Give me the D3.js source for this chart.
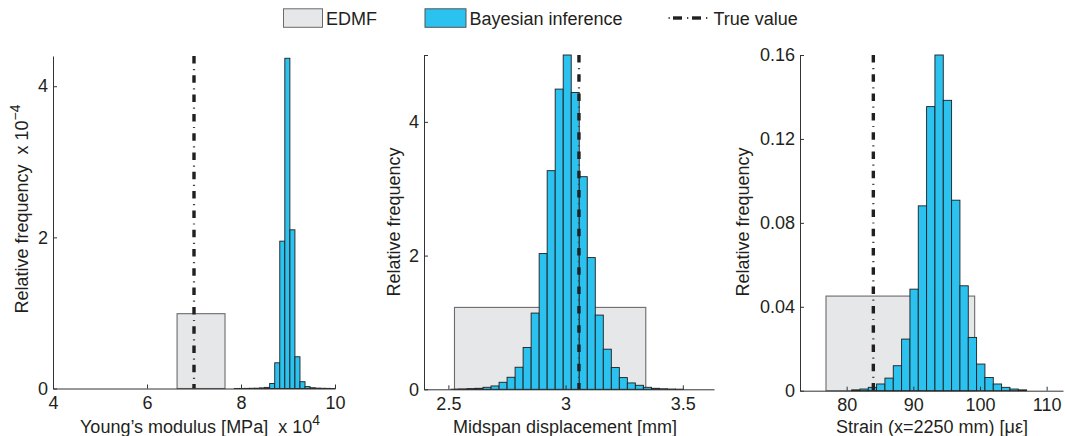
<!DOCTYPE html>
<html><head><meta charset="utf-8">
<script src="https://cdn.jsdelivr.net/npm/d3@7"></script>
<style>
body{margin:0;background:#fff}
svg{display:block}
text{font-family:"Liberation Sans",Arial,Helvetica,sans-serif;fill:#231f20}
</style>
</head><body>
<svg id="chart" width="1065" height="436"></svg>
<script>
// ---------------- DATA ----------------
// Panel 1: Young's modulus (x 10^4 MPa), relative frequency (x 10^-4)
const youngTicksX = [4, 6, 8, 10];
const youngTicksY = [0, 2, 4];
const youngEdmf = [6.64, 7.66, 0.99];          // [from, to, height]
const youngTrue = 7.0;
const youngBinStart = 7.8575;
const youngBinWidth = 0.1075;
const youngBayes = [0.001, 0.001, 0.002, 0.003, 0.004, 0.008, 0.015,
  0.066, 0.34, 1.95, 4.37, 2.1, 0.42, 0.09, 0.025, 0.01, 0.005, 0.003, 0.002, 0.001];

// Panel 2: Midspan displacement [mm]
const dispTicksX = [2.5, 3, 3.5];
const dispTicksY = [0, 2, 4, 5];
const dispEdmf = [2.526, 3.342, 1.225];
const dispTrue = 3.057;
const dispBinStart = 2.511;
const dispBinWidth = 0.0342;
const dispBayes = [0.002, 0.005, 0.01, 0.015, 0.03, 0.05, 0.105, 0.18, 0.33, 0.625,
  1.14, 2.03, 3.27, 4.49, 5.0, 4.44, 3.18, 1.97, 1.11, 0.6,
  0.325, 0.175, 0.095, 0.06, 0.03, 0.015, 0.008, 0.004, 0.002];

// Panel 3: Strain (x=2250 mm) [µε]
const strainTicksX = [80, 90, 100, 110];
const strainTicksY = [0, 0.04, 0.08, 0.12, 0.16];
const strainEdmf = [76.9, 99.2, 0.0451];
const strainTrue = 84.0;
const strainBinStart = 80.74;
const strainBinWidth = 1.25;
const strainBayes = [0.0004, 0.0008, 0.0016, 0.0032, 0.006, 0.0119, 0.0246, 0.0484, 0.0881, 0.1354,
  0.16, 0.1384, 0.0908, 0.05, 0.0254, 0.0127, 0.0063, 0.0032, 0.0016, 0.0008, 0.0004];

const legendLabels = ["EDMF", "Bayesian inference", "True value"];

// ---------------- LAYOUT ----------------
const panels = [
  {xDom:[4,10], xR:[53,335], yDom:[0,4.4], yR:[388.5,56],
   ticksX:youngTicksX, ticksY:youngTicksY, edmf:youngEdmf, truth:youngTrue,
   binStart:youngBinStart, binWidth:youngBinWidth, bayes:youngBayes,
   fmtY:d3.format("d"), fmtX:d3.format("d"),
   xlabel:["Young\u2019s modulus [MPa]\u00a0\u00a0x 10","4"], xlabelX:200,
   ylabel:["Relative frequency\u00a0\u00a0x 10","\u22124"], ylabelX:28, ylabelY:209},
  {xDom:[2.396,3.633], xR:[424,714], yDom:[0,5], yR:[389.3,55],
   ticksX:dispTicksX, ticksY:dispTicksY, edmf:dispEdmf, truth:dispTrue,
   binStart:dispBinStart, binWidth:dispBinWidth, bayes:dispBayes,
   fmtY:(d)=> d===5 ? "" : d3.format("d")(d), fmtX:d3.format("~g"),
   xlabel:["Midspan displacement [mm]"], xlabelX:565,
   ylabel:["Relative frequency"], ylabelX:400, ylabelY:222},
  {xDom:[73,112.45], xR:[800,1063], yDom:[0,0.16], yR:[390.7,55],
   ticksX:strainTicksX, ticksY:strainTicksY, edmf:strainEdmf, truth:strainTrue,
   binStart:strainBinStart, binWidth:strainBinWidth, bayes:strainBayes,
   fmtY:(d)=> d===0 ? "0" : d3.format(".2f")(d), fmtX:d3.format("d"),
   xlabel:["Strain (x=2250 mm) [\u03bc\u03b5]"], xlabelX:932,
   ylabel:["Relative frequency"], ylabelX:749, ylabelY:222}
];

const svg = d3.select("#chart");
const FS = 18;
const cyan = "#2bc2ef", grey = "#e6e7e8";

function trueLine(g, x, y1, y2){
  g.append("line").attr("x1",x).attr("x2",x).attr("y1",y1).attr("y2",y2)
    .attr("stroke","#231f20").attr("stroke-width",3.4).attr("stroke-dasharray","7.5 11.8");
  g.append("line").attr("x1",x).attr("x2",x).attr("y1",y1).attr("y2",y2)
    .attr("stroke","#444").attr("stroke-width",2.2)
    .attr("stroke-dasharray","1.2 18.1").attr("stroke-dashoffset",-13);
}

panels.forEach(p => {
  const x = d3.scaleLinear().domain(p.xDom).range(p.xR);
  const y = d3.scaleLinear().domain(p.yDom).range(p.yR);
  const g = svg.append("g");

  // EDMF rectangle
  g.append("rect")
    .attr("x", x(p.edmf[0])).attr("width", x(p.edmf[1]) - x(p.edmf[0]))
    .attr("y", y(p.edmf[2])).attr("height", y(0) - y(p.edmf[2]))
    .attr("fill", grey).attr("stroke", "#6b6b6b").attr("stroke-width", 1.1);

  // Bayesian histogram
  g.selectAll("rect.b").data(p.bayes).join("rect").attr("class","b")
    .attr("x", (d,i) => x(p.binStart + i*p.binWidth))
    .attr("width", (d,i) => x(p.binStart + (i+1)*p.binWidth) - x(p.binStart + i*p.binWidth))
    .attr("y", d => y(d)).attr("height", d => y(0) - y(d))
    .attr("fill", cyan).attr("stroke", "#1e1e1e").attr("stroke-width", 0.9);

  // true value
  trueLine(g, x(p.truth), p.yR[1], p.yR[0]);

  // axes
  const ax = g.append("g").attr("transform",`translate(0,${p.yR[0]})`)
    .call(d3.axisBottom(x).tickValues(p.ticksX).tickFormat(p.fmtX).tickSizeInner(-4).tickSizeOuter(0).tickPadding(8));
  const ay = g.append("g").attr("transform",`translate(${p.xR[0]},0)`)
    .call(d3.axisLeft(y).tickValues(p.ticksY).tickFormat(p.fmtY).tickSizeInner(-4).tickSizeOuter(0).tickPadding(5));
  [ax, ay].forEach(a => {
    a.select(".domain").attr("stroke","#333").attr("stroke-width",1);
    a.selectAll(".tick line").attr("stroke","#333");
    a.selectAll("text").attr("font-size",FS).attr("font-family",null).attr("fill","#231f20");
  });

  // x label
  const xl = g.append("text").attr("x", p.xlabelX).attr("y", 433)
    .attr("text-anchor","middle").attr("font-size",FS);
  xl.append("tspan").text(p.xlabel[0]);
  if (p.xlabel[1]) xl.append("tspan").attr("dy",-8).attr("font-size",14).text(p.xlabel[1]);

  // y label
  const yl = g.append("text")
    .attr("transform",`translate(${p.ylabelX},${p.ylabelY}) rotate(-90)`)
    .attr("text-anchor","middle").attr("font-size",FS);
  yl.append("tspan").text(p.ylabel[0]);
  if (p.ylabel[1]) yl.append("tspan").attr("dy",-8).attr("font-size",14).text(p.ylabel[1]);
});

// ---------------- LEGEND ----------------
const lg = svg.append("g");
lg.append("rect").attr("x",283.5).attr("y",8.8).attr("width",39).attr("height",18.5)
  .attr("fill",grey).attr("stroke","#6b6b6b");
lg.append("text").attr("x",326).attr("y",25.3).attr("font-size",18).text(legendLabels[0]);
lg.append("rect").attr("x",425).attr("y",8.8).attr("width",41).attr("height",18.5)
  .attr("fill",cyan).attr("stroke","#555");
lg.append("text").attr("x",469.5).attr("y",25.3).attr("font-size",18).text(legendLabels[1]);
[[673,682],[692,701]].forEach(s => lg.append("line").attr("x1",s[0]).attr("x2",s[1]).attr("y1",18).attr("y2",18)
  .attr("stroke","#231f20").attr("stroke-width",3.4));
[668.5,687,706].forEach(s => lg.append("line").attr("x1",s).attr("x2",s+1.3).attr("y1",18).attr("y2",18)
  .attr("stroke","#444").attr("stroke-width",2.2));
lg.append("text").attr("x",713.5).attr("y",25.3).attr("font-size",18).text(legendLabels[2]);
</script>
</body></html>
